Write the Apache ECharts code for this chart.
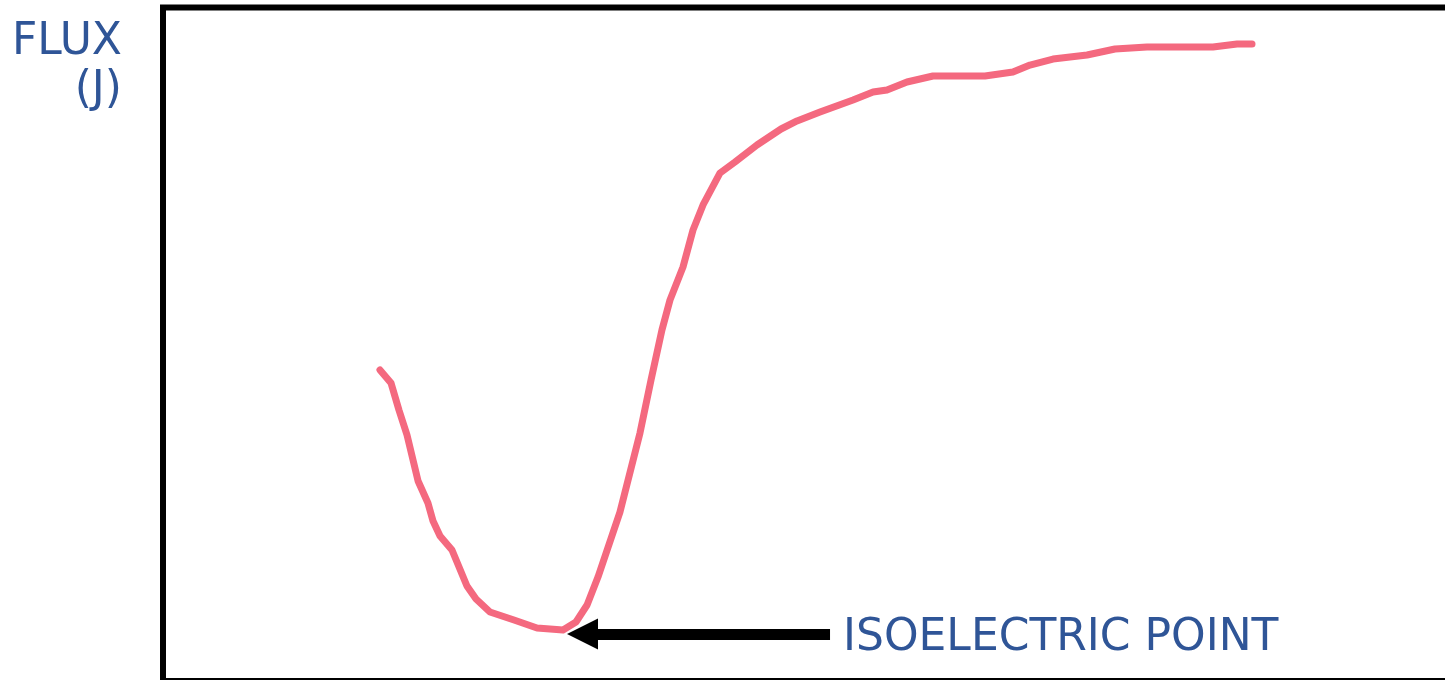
<!DOCTYPE html>
<html>
<head>
<meta charset="utf-8">
<script src="https://cdn.jsdelivr.net/npm/echarts@6/dist/echarts.min.js"></script>
<style>
html,body{margin:0;padding:0;background:#fff;}
#chart{width:1445px;height:680px;}
</style>
</head>
<body>
<div id="chart"></div>
<script>
// x: relative pH scale (0-100), y: relative flux (0-100)
const phValues = [16.69,17.54,18.15,18.77,19.62,20.38,20.77,21.31,22.23,23.38,24.08,25.15,27.00,28.77,30.77,31.77,32.62,33.46,35.15,36.69,37.54,38.38,39.00,40.00,40.77,41.54,42.85,44.00,45.69,47.54,48.77,50.54,53.08,54.62,55.69,57.23,59.23,63.23,65.38,66.69,68.46,71.08,73.23,75.69,80.77,82.62,83.77];
const fluxValues = [46.18,44.25,40.24,36.53,29.70,26.43,23.76,21.53,19.45,14.11,12.18,10.25,9.06,7.87,7.57,8.76,11.28,15.44,25.09,36.82,44.69,52.12,56.57,61.47,66.96,70.68,75.43,77.06,79.58,81.96,83.15,84.48,86.27,87.45,87.75,88.94,89.83,89.83,90.42,91.46,92.35,92.95,93.84,94.14,94.14,94.58,94.58];
const arrowFrom = [51.31, 6.98];
const arrowTo = [32.27, 6.98];
const yLabel = 'FLUX\n(J)';
const annotation = 'ISOELECTRIC POINT';

const seriesData = phValues.map((x, i) => [x, fluxValues[i]]);
const textColor = '#2F5597';
const font = 'DejaVu Sans, Verdana, sans-serif';

const chart = echarts.init(document.getElementById('chart'), null, {renderer: 'canvas'});
chart.setOption({
  animation: false,
  backgroundColor: '#fff',
  grid: {
    show: true, left: 163, top: 7.5, width: 1300, height: 673.5,
    outerBoundsMode: 'none', containLabel: false,
    borderColor: '#000', borderWidth: 6, backgroundColor: 'transparent'
  },
  xAxis: {
    type: 'value', min: 0, max: 100,
    axisLine: {show: false}, axisTick: {show: false}, axisLabel: {show: false}, splitLine: {show: false}
  },
  yAxis: {
    type: 'value', min: 0, max: 100,
    axisLine: {show: false}, axisTick: {show: false}, axisLabel: {show: false}, splitLine: {show: false}
  },
  graphic: [{
    type: 'text',
    x: 122, y: 19,
    style: {
      text: yLabel, align: 'right', verticalAlign: 'top',
      font: '44px ' + font, lineHeight: 48, fill: textColor
    }
  }],
  series: [{
    type: 'line',
    data: seriesData,
    showSymbol: false,
    smooth: false,
    clip: false,
    lineStyle: {color: '#F4697F', width: 7, cap: 'round', join: 'round'},
    markLine: {
      silent: true,
      symbol: ['none', 'triangle'],
      symbolSize: [31, 31],
      lineStyle: {color: '#000', width: 11, type: 'solid'},
      label: {
        show: true, position: 'start', distance: 13,
        formatter: annotation, color: textColor,
        fontFamily: font, fontSize: 44, offset: [0, 5]
      },
      data: [[{coord: arrowFrom}, {coord: arrowTo}]]
    }
  }]
});
</script>
</body>
</html>
